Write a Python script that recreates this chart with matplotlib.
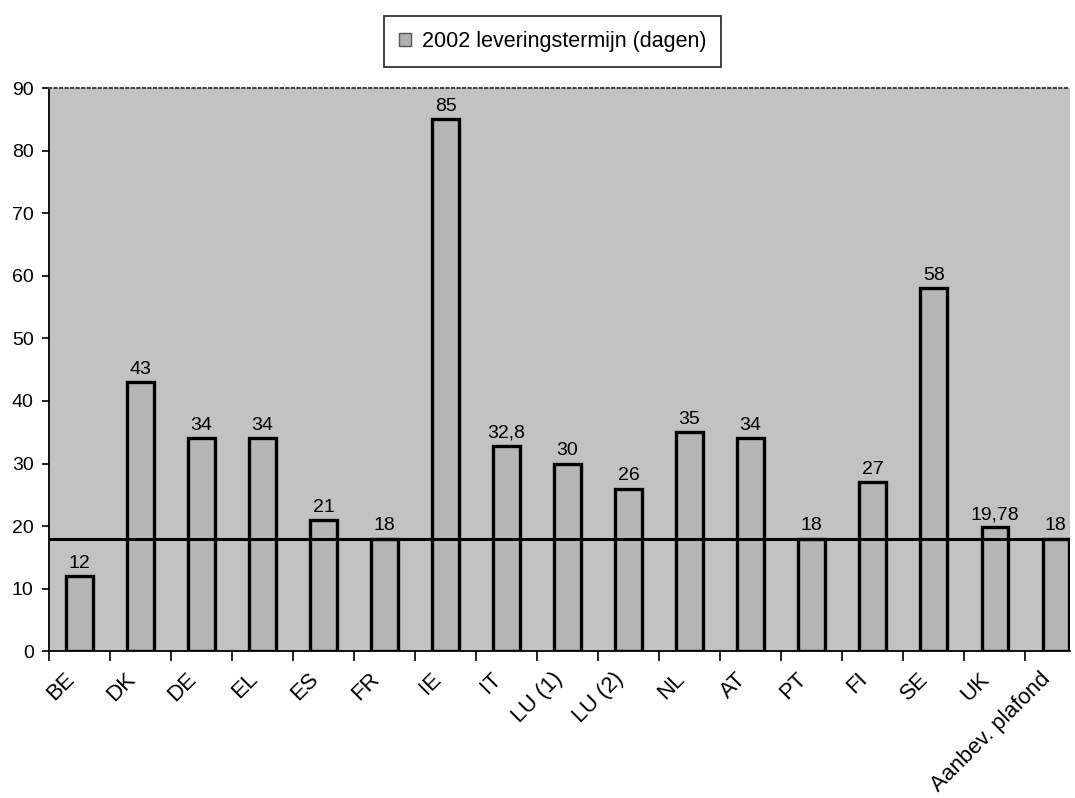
import matplotlib.pyplot as plt
import matplotlib.patches as mpatches
import matplotlib.transforms as mtransforms

plt.rcParams['font.family'] = ['Liberation Sans', 'DejaVu Sans']

landen = ['BE', 'DK', 'DE', 'EL', 'ES', 'FR', 'IE', 'IT', 'LU (1)', 'LU (2)',
          'NL', 'AT', 'PT', 'FI', 'SE', 'UK', 'Aanbev. plafond']
dagen = [12, 43, 34, 34, 21, 18, 85, 32.8, 30, 26, 35, 34, 18, 27, 58, 19.78, 18]
labels = ['12', '43', '34', '34', '21', '18', '85', '32,8', '30', '26', '35', '34',
          '18', '27', '58', '19,78', '18']
plafond = 18

fig = plt.figure(figsize=(10.75, 7.98), dpi=100)
ax = fig.add_axes([0.0456, 0.184, 0.950, 0.7055])
ax.set_facecolor('#c2c2c2')

x = list(range(len(landen)))
breedte = 0.43
ax.bar(x, dagen, width=breedte, color='#b6b6b6', edgecolor='black',
       linewidth=2.4, zorder=2)
for xi, v, lab in zip(x, dagen, labels):
    ax.annotate(lab, (xi, v), xytext=(0, 3), textcoords='offset points',
                ha='center', va='bottom', fontsize=14, zorder=4)

# aanbevolen plafond als horizontale lijn
ax.hlines(plafond, -0.5, x[-1] + breedte / 2, color='black', linewidth=2.2, zorder=3)

ax.set_xlim(-0.5, x[-1] + 0.24)
ax.set_ylim(0, 90)
ax.set_yticks(range(0, 91, 10))
ax.tick_params(axis='y', labelsize=14, length=5, width=1.2, pad=6)

# tick marks tussen de categorieen, labels in het midden
ax.set_xticks([i - 0.5 for i in range(len(landen))])
ax.set_xticklabels([''] * len(landen))
ax.tick_params(axis='x', length=7, width=1.2)
ax.set_xticks(x, minor=True)
ax.set_xticklabels(landen, minor=True, rotation=45, ha='right', va='center',
                   rotation_mode='anchor', fontsize=16)
ax.tick_params(axis='x', which='minor', length=0, pad=18)
verschuif = mtransforms.ScaledTranslation(-0.08, 0, fig.dpi_scale_trans)
for t in ax.get_xticklabels(minor=True):
    t.set_transform(t.get_transform() + verschuif)

ax.spines['right'].set_visible(False)
ax.spines['top'].set_color('#444444')
ax.spines['top'].set_linestyle(':')
ax.spines['top'].set_linewidth(1.5)
ax.spines['left'].set_linewidth(1.3)
ax.spines['bottom'].set_linewidth(1.3)

handle = mpatches.Patch(facecolor='#b0b0b0', edgecolor='#555555',
                        label='2002 leveringstermijn (dagen)')
leg = fig.legend(handles=[handle], loc='center', bbox_to_anchor=(0.514, 0.948),
                 fontsize=15.5, frameon=True, fancybox=False, edgecolor='black',
                 handlelength=0.55, handleheight=0.55, handletextpad=0.5,
                 borderpad=0.7, borderaxespad=0)
leg.get_frame().set_linewidth(1.3)

plt.savefig('out.png', dpi=100)
